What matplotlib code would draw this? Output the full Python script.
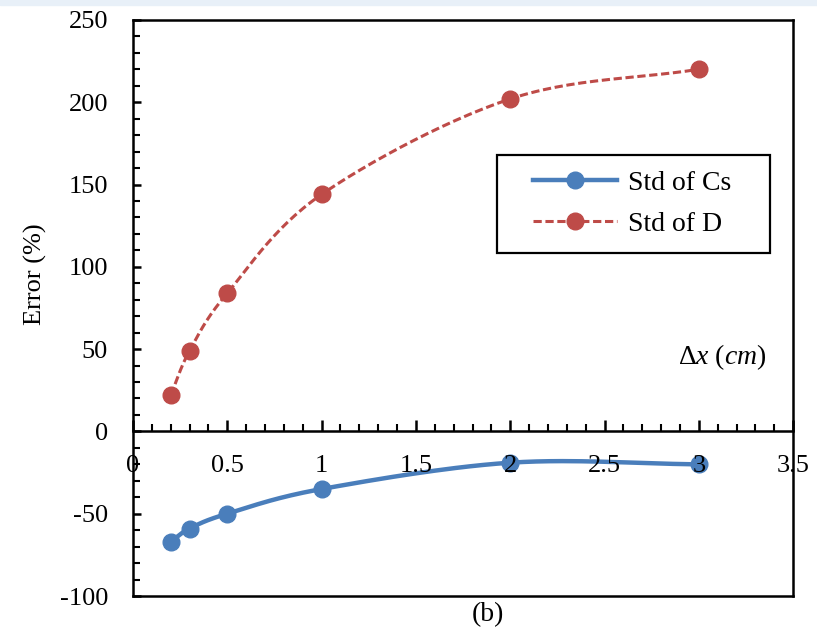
import matplotlib.pyplot as plt
import numpy as np
from matplotlib.ticker import MultipleLocator, FuncFormatter

plt.rcParams['font.family'] = ['Liberation Serif', 'DejaVu Serif']
plt.rcParams['axes.unicode_minus'] = False
plt.rcParams['mathtext.fontset'] = 'custom'
plt.rcParams['mathtext.rm'] = 'Liberation Serif'
plt.rcParams['mathtext.it'] = 'Liberation Serif:italic'

dx = [0.2, 0.3, 0.5, 1.0, 2.0, 3.0]
std_cs = [-67, -59, -50, -35, -19, -20]
std_d = [22, 49, 84, 144, 202, 220]


def smooth(x, y, n=30):
    # Catmull-Rom style curve through the points, like Excel's smoothed line
    x = np.asarray(x, float)
    y = np.asarray(y, float)
    px = np.concatenate([[2 * x[0] - x[1]], x, [2 * x[-1] - x[-2]]])
    py = np.concatenate([[2 * y[0] - y[1]], y, [2 * y[-1] - y[-2]]])
    xs, ys = [], []
    for i in range(1, len(px) - 2):
        t = np.linspace(0, 1, n)
        for p, out in ((px, xs), (py, ys)):
            p0, p1, p2, p3 = p[i - 1], p[i], p[i + 1], p[i + 2]
            m1 = (p2 - p0) / 6
            m2 = (p3 - p1) / 6
            out.extend((1 - t) ** 3 * p1 + 3 * (1 - t) ** 2 * t * (p1 + m1)
                       + 3 * (1 - t) * t ** 2 * (p2 - m2) + t ** 3 * p2)
    return xs, ys


fig = plt.figure(figsize=(8.17, 6.38), dpi=100)
fig.patches.append(plt.Rectangle((0, 0.992), 1, 0.008, transform=fig.transFigure,
                                 color='#e8f0f8', zorder=0))
ax = fig.add_axes([0.1628, 0.0658, 0.808, 0.903])
ax.set_axisbelow(False)

blue = '#4a7ebb'
red = '#be4b48'
sx, sy = smooth(dx, std_cs)
ax.plot(sx, sy, color=blue, lw=3.2, solid_capstyle='round')
ax.plot(dx, std_cs, 'o', color=blue, ms=12)
sx, sy = smooth(dx, std_d)
ax.plot(sx, sy, color=red, lw=2.2, ls=(0, (2.7, 1.2)))
ax.plot(dx, std_d, 'o', color=red, ms=12)

# legend handles and box
h1, = ax.plot([], [], '-o', color=blue, lw=3.2, ms=12, label='Std of Cs')
h2, = ax.plot([], [], 'o', color=red, lw=2.2, ls=(0, (2.7, 1.2)), ms=12, label='Std of D')
ax.legend(handles=[h1, h2], loc='center', bbox_to_anchor=(0.756, 0.681),
          frameon=False, fontsize=20, handlelength=3.0, handletextpad=0.4,
          labelspacing=0.55, borderaxespad=0)
ax.add_patch(plt.Rectangle((0.551, 0.595), 0.414, 0.170, transform=ax.transAxes,
                           fill=False, edgecolor='black', lw=1.6, zorder=5))

ax.set_xlim(0, 3.5)
ax.set_ylim(-100, 250)
ax.spines['bottom'].set_position(('data', 0))
for s in ax.spines.values():
    s.set_linewidth(1.8)
# closing line of the frame at the bottom
ax.axhline(-100, color='black', lw=1.8, clip_on=False, zorder=3)
ax.xaxis.set_major_locator(MultipleLocator(0.5))
ax.xaxis.set_minor_locator(MultipleLocator(0.1))
ax.xaxis.set_major_formatter(FuncFormatter(lambda v, p: '{:g}'.format(v)))
ax.yaxis.set_major_locator(MultipleLocator(50))
ax.yaxis.set_minor_locator(MultipleLocator(10))
ax.tick_params(axis='x', which='both', direction='in', labelsize=19, pad=17)
ax.tick_params(axis='x', which='major', length=8, width=1.8)
ax.tick_params(axis='x', which='minor', length=5, width=1.5)
ax.tick_params(axis='y', which='both', direction='in', labelsize=19, pad=18)
ax.tick_params(axis='y', which='major', length=6, width=1.8)
ax.tick_params(axis='y', which='minor', length=5, width=1.5)

ax.text(0.96, 0.415, r'$\Delta\mathit{x}\ \mathit{(cm)}$', transform=ax.transAxes,
        ha='right', va='center', fontsize=20)
fig.text(0.043, 0.57, 'Error (%)', rotation=90, ha='center', va='center', fontsize=19)
fig.text(0.597, 0.037, '(b)', ha='center', va='center', fontsize=20)

plt.savefig('out.png', dpi=100)
